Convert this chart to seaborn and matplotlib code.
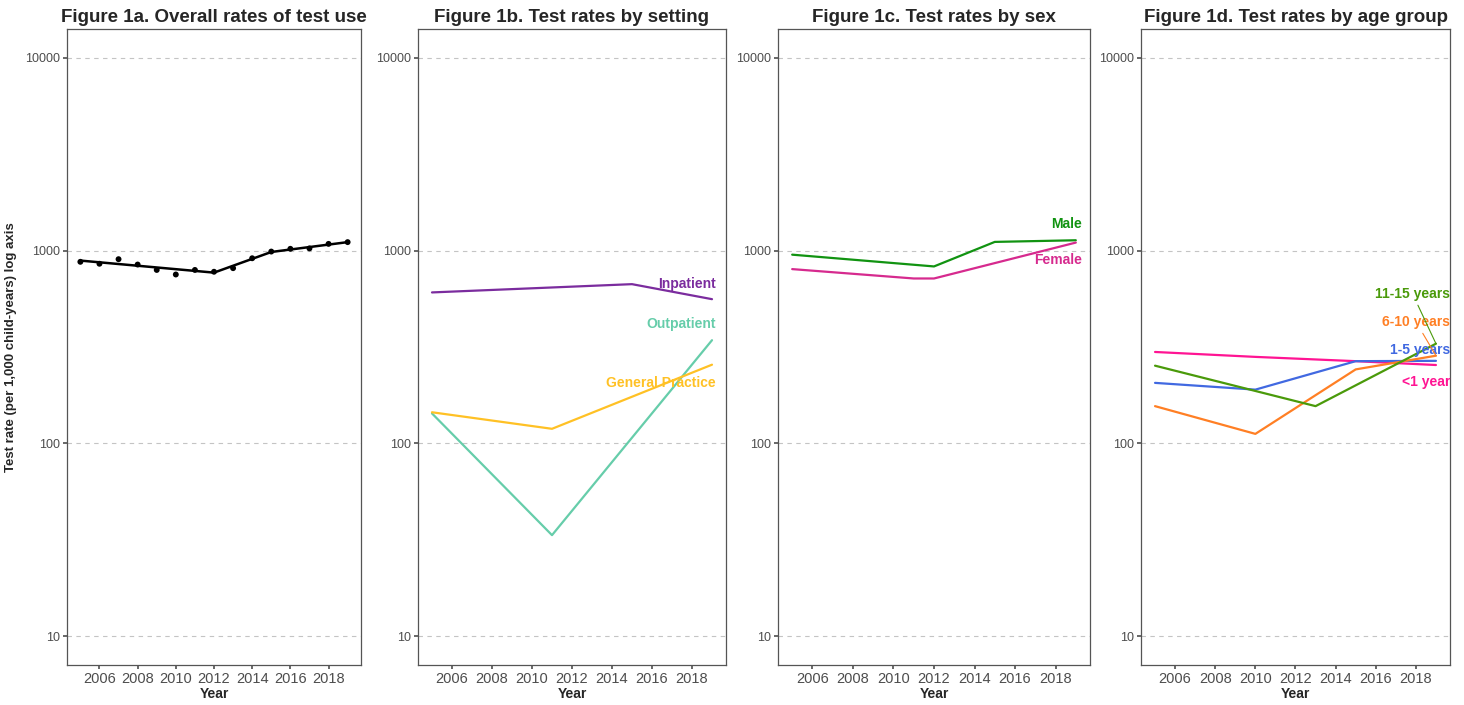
import pandas as pd
import matplotlib.pyplot as plt
import matplotlib.ticker as mticker
import seaborn as sns

# Figure 1a - observed rates and joinpoint fit
years_all = list(range(2005, 2020))
overall_obs = [875, 855, 903, 847, 794, 752, 794, 777, 811, 913, 989, 1022, 1027, 1084, 1107]
fit_years = [2005, 2012, 2015, 2019]
overall_fit = [888, 769, 984, 1107]

# Figure 1b - setting
setting_names = ['Inpatient', 'Outpatient', 'General Practice']
setting_years = {
    'Inpatient': [2005, 2011, 2015, 2019],
    'Outpatient': [2005, 2011, 2019],
    'General Practice': [2005, 2011, 2019],
}
setting_vals = {
    'Inpatient': [607, 644, 670, 560],
    'Outpatient': [143, 33.4, 343],
    'General Practice': [145, 119, 256],
}
setting_colors = ['#7B2C9E', '#66CDAA', '#FFC125']
setting_label_y = [671, 417, 205]

# Figure 1c - sex
sex_names = ['Male', 'Female']
sex_years = {'Male': [2005, 2012, 2015, 2019], 'Female': [2005, 2011, 2012, 2019]}
sex_vals = {'Male': [953, 828, 1110, 1132], 'Female': [802, 717, 717, 1101]}
sex_colors = ['#119311', '#D62A8E']
sex_label_y = [1378, 890]

# Figure 1d - age group
age_names = ['<1 year', '1-5 years', '6-10 years', '11-15 years']
age_years = {
    '<1 year': [2005, 2010, 2015, 2019],
    '1-5 years': [2005, 2010, 2015, 2019],
    '6-10 years': [2005, 2010, 2015, 2019],
    '11-15 years': [2005, 2013, 2019],
}
age_vals = {
    '<1 year': [298, 281, 267, 255],
    '1-5 years': [206, 190, 267, 268],
    '6-10 years': [156, 112, 242, 285],
    '11-15 years': [253, 156, 329],
}
age_colors = ['#FF1493', '#4169E1', '#FF7F24', '#4A9A0A']
age_label_y = [208, 306, 427, 598]
age_leader = [False, False, True, True]

titles = ['Figure 1a. Overall rates of test use', 'Figure 1b. Test rates by setting',
          'Figure 1c. Test rates by sex', 'Figure 1d. Test rates by age group']


def long_df(names, years, vals):
    rows = []
    for n in names:
        for y, v in zip(years[n], vals[n]):
            rows.append({'group': n, 'Year': y, 'rate': v})
    return pd.DataFrame(rows)


sns.set_theme(style='white')
plt.rcParams['font.family'] = ['Liberation Sans', 'DejaVu Sans']

fig = plt.figure(figsize=(14.64, 7.05), dpi=100)
W, H = 1464, 705
lefts = [67, 418, 778, 1141]
rights = [361, 726, 1090, 1450]
top, bottom = 29, 665
axes = [fig.add_axes([l / W, 1 - bottom / H, (r - l) / W, (bottom - top) / H]) for l, r in zip(lefts, rights)]

# 1a
obs = pd.DataFrame({'Year': years_all, 'rate': overall_obs})
fit = pd.DataFrame({'Year': fit_years, 'rate': overall_fit})
sns.lineplot(data=fit, x='Year', y='rate', color='black', linewidth=1.8, ax=axes[0])
sns.scatterplot(data=obs, x='Year', y='rate', color='black', s=18, edgecolor='none', ax=axes[0])

# 1b
df_set = long_df(setting_names, setting_years, setting_vals)
sns.lineplot(data=df_set, x='Year', y='rate', hue='group', hue_order=setting_names,
             palette=setting_colors, linewidth=1.6, legend=False, ax=axes[1])
for n, c, ly in zip(setting_names, setting_colors, setting_label_y):
    axes[1].text(2019.2, ly, n, color=c, ha='right', va='center', fontsize=10, fontweight='bold')

# 1c
df_sex = long_df(sex_names, sex_years, sex_vals)
sns.lineplot(data=df_sex, x='Year', y='rate', hue='group', hue_order=sex_names,
             palette=sex_colors, linewidth=1.6, legend=False, ax=axes[2])
for n, c, ly in zip(sex_names, sex_colors, sex_label_y):
    axes[2].text(2019.3, ly, n, color=c, ha='right', va='center', fontsize=10, fontweight='bold')

# 1d
df_age = long_df(age_names, age_years, age_vals)
sns.lineplot(data=df_age, x='Year', y='rate', hue='group', hue_order=age_names,
             palette=age_colors, linewidth=1.6, legend=False, ax=axes[3])
for n, c, ly, lead in zip(age_names, age_colors, age_label_y, age_leader):
    end_val = age_vals[n][-1]
    props = dict(arrowstyle='-', color=c, lw=0.8, shrinkA=1, shrinkB=0) if lead else None
    axes[3].annotate(n, xy=(2019, end_val), xytext=(2019.7, ly), color=c, ha='right', va='center',
                     fontsize=10, fontweight='bold', arrowprops=props)

for ax, title in zip(axes, titles):
    ax.set_yscale('log')
    ax.set_ylim(7.08, 14125)
    ax.set_xlim(2004.3, 2019.7)
    ax.yaxis.set_major_locator(mticker.FixedLocator([10, 100, 1000, 10000]))
    ax.yaxis.set_major_formatter(mticker.FixedFormatter(['10', '100', '1000', '10000']))
    ax.yaxis.set_minor_locator(mticker.NullLocator())
    ax.set_xticks(range(2006, 2019, 2))
    ax.grid(axis='y', which='major', linestyle=(0, (4, 4)), color='#C4C4C4', linewidth=0.8)
    ax.grid(axis='x', visible=False)
    for s in ax.spines.values():
        s.set_color('#555555')
        s.set_linewidth(0.9)
    ax.tick_params(axis='x', which='major', labelsize=10.5, labelcolor='#4D4D4D',
                   length=3, color='#555555', direction='out', bottom=True, pad=2)
    ax.tick_params(axis='y', which='major', labelsize=9, labelcolor='#4D4D4D',
                   length=3, color='#555555', direction='out', left=True, pad=2)
    ax.set_title(title, fontsize=13.5, fontweight='bold', pad=5)
    ax.set_xlabel('Year', fontsize=10, fontweight='bold', labelpad=1)
    ax.set_ylabel('')

axes[0].set_ylabel('Test rate (per 1,000 child-years) log axis', fontsize=9.5, fontweight='bold',
                   family=['Liberation Sans Narrow', 'Liberation Sans'])
axes[0].yaxis.set_label_coords(-0.17, 0.5)

fig.savefig('out.png', dpi=100)
